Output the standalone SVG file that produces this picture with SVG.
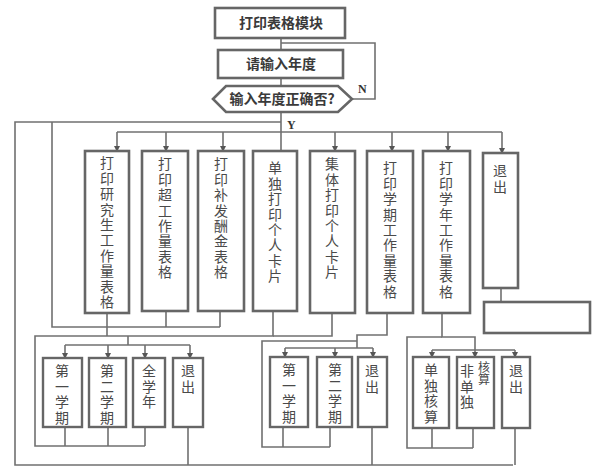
<svg xmlns="http://www.w3.org/2000/svg" width="600" height="467" viewBox="0 0 600 467">
<defs>
<marker id="ar" viewBox="0 0 6 6" refX="5" refY="3" markerWidth="4" markerHeight="4" orient="auto">
<path d="M0,0 L6,3 L0,6 z" fill="#555"/>
</marker>
<style>
.box{fill:#fff;stroke:#666;stroke-width:2.6}
.sbox{fill:#fff;stroke:#666;stroke-width:2.4}
.ln{fill:none;stroke:#707070;stroke-width:1.6}
.tb{font-family:"Noto Sans CJK SC","Noto Sans",sans-serif;font-size:14px;font-weight:bold;fill:#3a3a3a;text-anchor:middle}
.v{font-family:"Noto Sans CJK SC","Noto Sans",sans-serif;font-size:14px;fill:#4a4a4a;writing-mode:vertical-rl;text-anchor:start;letter-spacing:1.4px}
.vs{font-family:"Noto Sans CJK SC","Noto Sans",sans-serif;font-size:14px;fill:#4a4a4a;writing-mode:vertical-rl;text-anchor:start;letter-spacing:1.5px}
.lbl{font-family:"Liberation Serif",serif;font-size:12px;font-weight:bold;fill:#333}
</style>
</defs>
<rect width="600" height="467" fill="#fff"/>

<g id="connectors">
<line class="ln" x1="281" y1="38" x2="281" y2="50"/>
<line class="ln" x1="281" y1="78" x2="281" y2="86"/>
<polyline class="ln" points="352,99 375,99 375,43 281,43"/>
<line class="ln" x1="281" y1="112" x2="281" y2="151"/>
<polyline class="ln" points="281,122 15,122 15,465 513,465"/>
<line class="ln" x1="117" y1="132" x2="502" y2="132"/>
<line class="ln" x1="117" y1="132" x2="117" y2="151" marker-end="url(#ar)"/>
<line class="ln" x1="166" y1="132" x2="166" y2="151" marker-end="url(#ar)"/>
<line class="ln" x1="223" y1="132" x2="223" y2="151" marker-end="url(#ar)"/>
<line class="ln" x1="335" y1="132" x2="335" y2="151" marker-end="url(#ar)"/>
<line class="ln" x1="392" y1="132" x2="392" y2="151" marker-end="url(#ar)"/>
<line class="ln" x1="448" y1="132" x2="448" y2="151" marker-end="url(#ar)"/>
<line class="ln" x1="502" y1="132" x2="502" y2="153" marker-end="url(#ar)"/>
<polyline class="ln" points="52,122 52,327 220,327"/>
<line class="ln" x1="166" y1="311" x2="166" y2="327"/>
<line class="ln" x1="220" y1="311" x2="220" y2="327"/>
<line class="ln" x1="107" y1="313" x2="107" y2="336"/>
<polyline class="ln" points="273,311 273,336 35,336 35,446 145,446"/>
<polyline class="ln" points="332,313 332,336 273,336"/>
<line class="ln" x1="128" y1="336" x2="128" y2="345"/>
<line class="ln" x1="65" y1="345" x2="190" y2="345"/>
<line class="ln" x1="65" y1="345" x2="65" y2="358" marker-end="url(#ar)"/>
<line class="ln" x1="108" y1="345" x2="108" y2="358" marker-end="url(#ar)"/>
<line class="ln" x1="145" y1="345" x2="145" y2="358" marker-end="url(#ar)"/>
<line class="ln" x1="190" y1="345" x2="190" y2="358" marker-end="url(#ar)"/>
<line class="ln" x1="65" y1="427" x2="65" y2="446"/>
<line class="ln" x1="108" y1="427" x2="108" y2="446"/>
<line class="ln" x1="145" y1="427" x2="145" y2="446"/>
<line class="ln" x1="188" y1="427" x2="188" y2="465"/>
<polyline class="ln" points="387,313 387,335 357,335 357,348"/>
<polyline class="ln" points="357,341 262,341 262,447 330,447"/>
<line class="ln" x1="285" y1="348" x2="373" y2="348"/>
<line class="ln" x1="285" y1="348" x2="285" y2="357" marker-end="url(#ar)"/>
<line class="ln" x1="335" y1="348" x2="335" y2="357" marker-end="url(#ar)"/>
<line class="ln" x1="373" y1="348" x2="373" y2="357" marker-end="url(#ar)"/>
<line class="ln" x1="283" y1="427" x2="283" y2="447"/>
<line class="ln" x1="330" y1="427" x2="330" y2="447"/>
<line class="ln" x1="372" y1="427" x2="372" y2="465"/>
<polyline class="ln" points="442,313 442,337 475,337 475,350"/>
<polyline class="ln" points="442,337 407,337 407,448 473,448"/>
<line class="ln" x1="432" y1="350" x2="515" y2="350"/>
<line class="ln" x1="432" y1="350" x2="432" y2="357" marker-end="url(#ar)"/>
<line class="ln" x1="475" y1="350" x2="475" y2="357" marker-end="url(#ar)"/>
<line class="ln" x1="515" y1="350" x2="515" y2="357" marker-end="url(#ar)"/>
<line class="ln" x1="432" y1="428" x2="432" y2="448"/>
<line class="ln" x1="473" y1="428" x2="473" y2="448"/>
<line class="ln" x1="515" y1="428" x2="515" y2="465"/>
<line class="ln" x1="501" y1="288" x2="501" y2="302"/>
<text class="lbl" x="358" y="93">N</text>
<text class="lbl" x="287" y="129">Y</text>
</g>

<g id="n_top"><rect class="box" x="215" y="8" width="130" height="30"/><text class="tb" x="281" y="28">打印表格模块</text></g>
<g id="n_input"><rect class="box" x="218" y="50" width="125" height="28"/><text class="tb" x="281" y="69">请输入年度</text></g>
<g id="n_check"><polygon class="box" points="213,99 226,86 338,86 352,99 338,112 226,112"/><text class="tb" x="282" y="104">输入年度正确否?</text></g>

<g id="b1"><rect class="box" x="85" y="151" width="44" height="162"/><text class="v" x="107" y="156">打印研究生工作量表格</text></g>
<g id="b2"><rect class="box" x="142" y="151" width="46" height="160"/><text class="v" x="165" y="157">打印超工作量表格</text></g>
<g id="b3"><rect class="box" x="198" y="151" width="46" height="160"/><text class="v" x="221" y="157">打印补发酬金表格</text></g>
<g id="b4"><rect class="box" x="253" y="151" width="44" height="160"/><text class="v" x="275" y="161">单独打印个人卡片</text></g>
<g id="b5"><rect class="box" x="310" y="151" width="45" height="162"/><text class="v" x="332" y="157">集体打印个人卡片</text></g>
<g id="b6"><rect class="box" x="367" y="151" width="46" height="162"/><text class="v" x="390" y="161">打印学期工作量表格</text></g>
<g id="b7"><rect class="box" x="423" y="151" width="47" height="162"/><text class="v" x="446" y="161">打印学年工作量表格</text></g>
<g id="b8"><rect class="box" x="483" y="153" width="35" height="135"/><text class="v" x="500" y="164">退出</text></g>
<g id="b9"><rect class="box" x="484" y="302" width="106" height="31"/></g>

<g id="s11"><rect class="sbox" x="43" y="358" width="39" height="69"/><text class="vs" x="62" y="364">第一学期</text></g>
<g id="s12"><rect class="sbox" x="89" y="358" width="37" height="69"/><text class="vs" x="107" y="364">第二学期</text></g>
<g id="s13"><rect class="sbox" x="133" y="358" width="32" height="69"/><text class="vs" x="149" y="364">全学年</text></g>
<g id="s14"><rect class="sbox" x="173" y="358" width="30" height="69"/><text class="vs" x="188" y="364">退出</text></g>

<g id="s21"><rect class="sbox" x="270" y="357" width="38" height="70"/><text class="vs" x="289" y="363">第一学期</text></g>
<g id="s22"><rect class="sbox" x="317" y="357" width="35" height="70"/><text class="vs" x="335" y="363">第二学期</text></g>
<g id="s23"><rect class="sbox" x="358" y="357" width="29" height="70"/><text class="vs" x="372" y="364">退出</text></g>

<g id="s31"><rect class="sbox" x="413" y="357" width="36" height="71"/><text class="vs" x="431" y="363">单独核算</text></g>
<g id="s32"><rect class="sbox" x="457" y="357" width="37" height="71"/>
<text class="vs" x="484" y="361" style="font-size:12px;letter-spacing:0.5px">核算</text>
<text class="vs" x="467" y="364">非单独</text></g>
<g id="s33"><rect class="sbox" x="502" y="357" width="28" height="71"/><text class="vs" x="516" y="364">退出</text></g>
</svg>
